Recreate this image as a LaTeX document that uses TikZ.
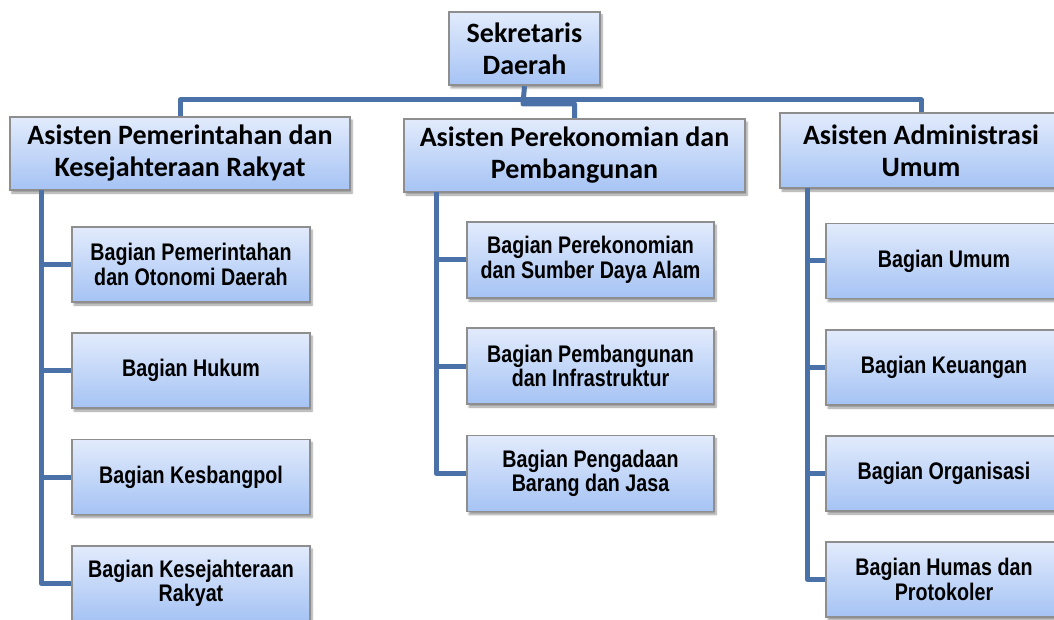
\documentclass[tikz,border=0pt]{standalone}
\usepackage{fontspec}
\setmainfont{Carlito}
\newfontfamily\narrowfont[FakeStretch=0.82]{Liberation Sans}
\usetikzlibrary{shadows.blur,calc}
\definecolor{linec}{HTML}{4A72A8}
\definecolor{boxtop}{HTML}{E2EBFC}
\definecolor{boxbot}{HTML}{A5C3F4}
\definecolor{boxline}{HTML}{8E8E8E}
\tikzset{
  box/.style={draw=boxline, line width=1.2pt, top color=boxtop, bottom color=boxbot,
    inner sep=0pt, align=center, text=black,
    blur shadow={shadow xshift=2pt, shadow yshift=-3pt, shadow blur steps=6, shadow opacity=40}},
  headbox/.style={box, font=\fontsize{28}{32}\selectfont\bfseries},
  unitbox/.style={box, font=\narrowfont\fontsize{24}{24.5}\selectfont\bfseries},
  conn/.style={draw=linec, line width=5pt, line join=round}
}
\begin{document}
\begin{tikzpicture}[x=1pt,y=-1pt]
\useasboundingbox (0,0) rectangle (1054,620);
\node[headbox, minimum width=151pt, minimum height=73pt] (sek) at (524.5,48.5) {Sekretaris\\Daerah};
\node[headbox, minimum width=340pt, minimum height=73pt] (a1) at (180,153.5) {Asisten Pemerintahan dan\\Kesejahteraan Rakyat};
\node[headbox, minimum width=341pt, minimum height=73pt] (a2) at (574.5,155.5) {Asisten Perekonomian dan\\Pembangunan};
\node[headbox, minimum width=282pt, minimum height=75pt] (a3) at (921,150.5) {Asisten Administrasi\\Umum};

\node[unitbox, minimum width=238pt, minimum height=75pt] (l1) at (191,264.5) {Bagian Pemerintahan\\dan Otonomi Daerah};
\node[unitbox, minimum width=238pt, minimum height=75pt] (l2) at (191,370.5) {Bagian Hukum};
\node[unitbox, minimum width=238pt, minimum height=75pt] (l3) at (191,477) {Bagian Kesbangpol};
\node[unitbox, minimum width=238pt, minimum height=75pt] (l4) at (191,583.5) {Bagian Kesejahteraan\\Rakyat};

\node[unitbox, minimum width=247pt, minimum height=76pt] (m1) at (590.5,260) {Bagian Perekonomian\\dan Sumber Daya Alam};
\node[unitbox, minimum width=247pt, minimum height=76pt] (m2) at (590.5,366) {Bagian Pembangunan\\dan Infrastruktur};
\node[unitbox, minimum width=247pt, minimum height=76pt] (m3) at (590.5,473.5) {Bagian Pengadaan\\Barang dan Jasa};

\node[unitbox, minimum width=236pt, minimum height=75pt] (r1) at (944,261) {Bagian Umum};
\node[unitbox, minimum width=236pt, minimum height=75pt] (r2) at (944,367.5) {Bagian Keuangan};
\node[unitbox, minimum width=236pt, minimum height=75pt] (r3) at (944,473.5) {Bagian Organisasi};
\node[unitbox, minimum width=236pt, minimum height=75pt] (r4) at (944,579.5) {Bagian Humas dan\\Protokoler};

% connectors
\coordinate (bar) at (523,100);
\coordinate (jn) at (523,104);
\draw[conn] ([yshift=-0.6pt]sek.south) -- (jn) -| ([yshift=0.6pt]a2.north);
\draw[conn] ([yshift=0.6pt]a1.north) |- (bar) -| ([yshift=0.6pt]a3.north);

\coordinate (L) at ([xshift=32pt,yshift=0.6pt]a1.south west);
\draw[conn] (L) |- ([xshift=-0.6pt]l4.west);
\foreach \n in {l1,l2,l3} \draw[conn] (L |- \n.west) -- ([xshift=-0.6pt]\n.west);

\coordinate (M) at ([xshift=33pt,yshift=0.6pt]a2.south west);
\draw[conn] (M) |- ([xshift=-0.6pt]m3.west);
\foreach \n in {m1,m2} \draw[conn] (M |- \n.west) -- ([xshift=-0.6pt]\n.west);

\coordinate (R) at ([xshift=28pt,yshift=0.6pt]a3.south west);
\draw[conn] (R) |- ([xshift=-0.6pt]r4.west);
\foreach \n in {r1,r2,r3} \draw[conn] (R |- \n.west) -- ([xshift=-0.6pt]\n.west);
\end{tikzpicture}
\end{document}
